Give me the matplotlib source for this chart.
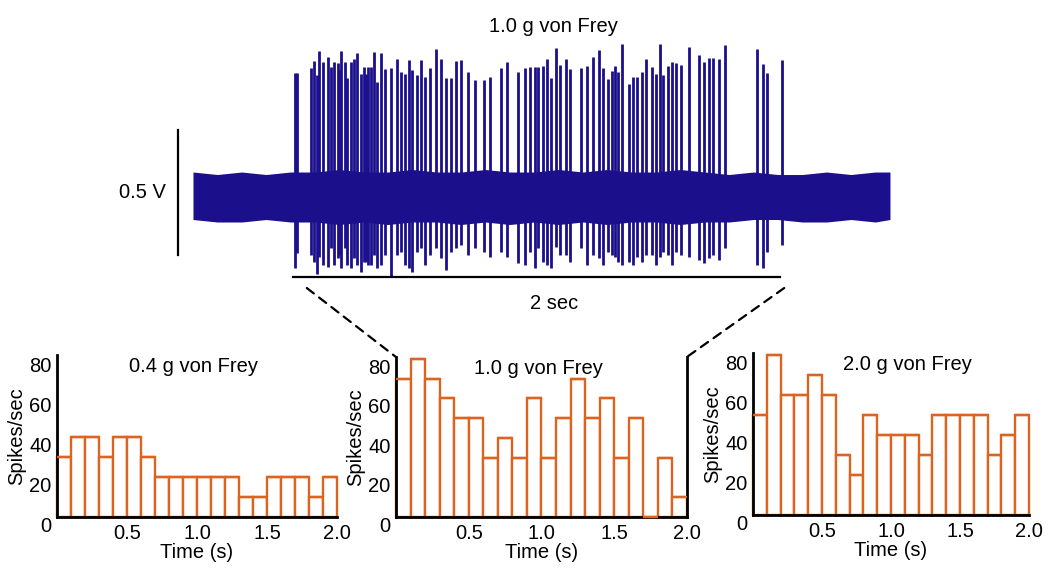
import numpy as np
import matplotlib.pyplot as plt
from matplotlib.patches import ConnectionPatch

plt.rcParams['font.family'] = ['Liberation Sans', 'DejaVu Sans']

# ---- top trace: spikes read from the recording (time in s, peak / trough in V)
spike_t = [0.418, 0.426, 0.484, 0.497, 0.508, 0.516, 0.532, 0.552, 0.566, 0.579,
           0.593, 0.601, 0.609, 0.623, 0.634, 0.648, 0.660, 0.673, 0.690, 0.700,
           0.709, 0.718, 0.730, 0.742, 0.757, 0.773, 0.787, 0.811, 0.837, 0.852,
           0.869, 0.885, 0.900,
           0.919, 0.937, 0.954, 0.974, 0.999, 1.019, 1.040, 1.057, 1.081, 1.101,
           1.130, 1.157, 1.193, 1.217, 1.262, 1.288, 1.333, 1.364, 1.381, 1.402,
           1.417,
           1.436, 1.454, 1.467, 1.488, 1.508, 1.529, 1.549, 1.593, 1.618, 1.641,
           1.664, 1.682, 1.702, 1.720, 1.732, 1.746, 1.761, 1.788, 1.806, 1.823,
           1.841, 1.859, 1.884, 1.900, 1.915, 1.927,
           1.948, 1.966, 1.982, 2.004, 2.034, 2.078, 2.095, 2.116, 2.135, 2.157,
           2.182, 2.314, 2.341, 2.354, 2.417]
spike_top = [0.497, 0.497, 0.515, 0.544, 0.488, 0.584, 0.539, 0.560, 0.521, 0.541,
             0.535, 0.508, 0.584, 0.541, 0.475, 0.541, 0.552, 0.575, 0.491, 0.521,
             0.491, 0.521, 0.521, 0.579, 0.461, 0.575, 0.511, 0.515, 0.551, 0.499,
             0.491, 0.547, 0.508,
             0.488, 0.548, 0.481, 0.517, 0.591, 0.552, 0.475, 0.477, 0.544, 0.547,
             0.499, 0.468, 0.468, 0.479, 0.517, 0.541, 0.499, 0.515, 0.519, 0.519,
             0.521,
             0.524, 0.552, 0.475, 0.595, 0.528, 0.552, 0.511, 0.515, 0.525, 0.559,
             0.588, 0.517, 0.471, 0.504, 0.524, 0.499, 0.611, 0.452, 0.480, 0.480,
             0.501, 0.551, 0.519, 0.491, 0.611, 0.488,
             0.525, 0.539, 0.535, 0.528, 0.600, 0.568, 0.541, 0.557, 0.555, 0.551,
             0.608, 0.592, 0.532, 0.495, 0.548]
spike_bottom = [-0.285, -0.225, -0.232, -0.259, -0.309, -0.239, -0.272, -0.279, -0.205, -0.272,
                -0.245, -0.232, -0.285, -0.205, -0.272, -0.285, -0.245, -0.272, -0.299, -0.259,
                -0.259, -0.272, -0.272, -0.232, -0.285, -0.272, -0.232, -0.319, -0.232, -0.219,
                -0.272, -0.285, -0.300,
                -0.219, -0.205, -0.272, -0.232, -0.205, -0.245, -0.292, -0.219, -0.205, -0.192,
                -0.232, -0.205, -0.219, -0.239, -0.219, -0.239, -0.265, -0.272, -0.219, -0.285,
                -0.205,
                -0.259, -0.272, -0.285, -0.199, -0.232, -0.232, -0.259, -0.205, -0.272, -0.232,
                -0.245, -0.272, -0.219, -0.232, -0.239, -0.259, -0.272, -0.259, -0.272, -0.239,
                -0.259, -0.232, -0.232, -0.272, -0.239, -0.219,
                -0.232, -0.272, -0.219, -0.232, -0.239, -0.252, -0.265, -0.245, -0.232, -0.252,
                -0.205, -0.272, -0.285, -0.219, -0.190]

# noise band envelope (V), read every 0.1 s
band_t = [0.0, 0.1, 0.2, 0.3, 0.4, 0.5, 0.6, 0.7, 0.8, 0.9, 1.0, 1.1, 1.2, 1.3, 1.4,
          1.5, 1.6, 1.7, 1.8, 1.9, 2.0, 2.1, 2.2, 2.3, 2.4, 2.5, 2.6, 2.7, 2.8, 2.86]
band_hi = [0.10, 0.09, 0.10, 0.09, 0.10, 0.10, 0.11, 0.10, 0.10, 0.11, 0.10, 0.10, 0.11, 0.10, 0.10,
           0.11, 0.10, 0.11, 0.10, 0.10, 0.11, 0.10, 0.09, 0.10, 0.09, 0.09, 0.10, 0.09, 0.10, 0.10]
band_lo = [-0.09, -0.10, -0.10, -0.09, -0.10, -0.10, -0.11, -0.10, -0.11, -0.10, -0.10, -0.11, -0.10, -0.11, -0.10,
           -0.11, -0.10, -0.11, -0.10, -0.10, -0.11, -0.10, -0.10, -0.09, -0.09, -0.10, -0.10, -0.09, -0.10, -0.09]

# ---- histograms: spikes/sec in 0.1 s bins
bin_edges = np.round(np.arange(0, 2.0, 0.1), 2)
rate_04 = [30, 40, 40, 30, 40, 40, 30, 20, 20, 20, 20, 20, 20, 10, 10, 20, 20, 20, 10, 20]
rate_10 = [70, 80, 70, 60, 50, 50, 30, 40, 30, 60, 30, 50, 70, 50, 60, 30, 50, 0, 30, 10]
rate_20 = [50, 80, 60, 60, 70, 60, 30, 20, 50, 40, 40, 40, 30, 50, 50, 50, 50, 30, 40, 50]

trace_col = '#1c0f8c'
bar_col = '#dc6420'
fs = 14.5

fig = plt.figure(figsize=(10.5, 5.68), dpi=100)

# top trace
ax_tr = fig.add_axes([0.1838, 0.4771, 0.6638, 0.4621])
ax_tr.fill_between(band_t, band_lo, band_hi, color=trace_col, lw=0)
ax_tr.vlines(spike_t, spike_bottom, spike_top, color=trace_col, lw=2.0)
ax_tr.set_xlim(0, 2.86)
ax_tr.set_ylim(-0.40, 0.65)
ax_tr.axis('off')
# scale bars
ax_tr.plot([-0.061, -0.061], [-0.232, 0.268], color='black', lw=1.6, clip_on=False)
ax_tr.text(-0.11, 0.02, '0.5 V', ha='right', va='center', fontsize=fs)
ax_tr.plot([0.41, 2.41], [-0.32, -0.32], color='black', lw=1.6, clip_on=False)
ax_tr.text(1.48, -0.424, '2 sec', ha='center', va='center', fontsize=fs)
ax_tr.text(1.48, 0.684, '1.0 g von Frey', ha='center', va='center', fontsize=fs)

panels = [
    ([0.0543, 0.0898, 0.2667, 0.2852], rate_04, '0.4 g von Frey', 0.486, False),
    ([0.3771, 0.0898, 0.2771, 0.2817], rate_10, '1.0 g von Frey', 0.49, True),
    ([0.7171, 0.0933, 0.2629, 0.2852], rate_20, '2.0 g von Frey', 0.558, False),
]
axes = []
for rect, rate, title, tx, right in panels:
    ax = fig.add_axes(rect)
    ax.bar(bin_edges, rate, width=0.1, align='edge', facecolor='white',
           edgecolor=bar_col, linewidth=1.7, zorder=2, clip_on=False)
    # bar tops drawn again above the axis line (an empty bin shows on the baseline)
    ax.hlines(rate, bin_edges, bin_edges + 0.1, color=bar_col, lw=1.7, zorder=4, clip_on=False)
    ax.set_xlim(0, 2.0)
    ax.set_ylim(0, 81)
    ax.set_xticks([0.5, 1.0, 1.5, 2.0])
    ax.set_xticklabels(['0.5', '1.0', '1.5', '2.0'])
    ax.set_yticks([0, 20, 40, 60, 80])
    ax.tick_params(length=0, labelsize=fs)
    ax.tick_params(axis='x', pad=5)
    ax.tick_params(axis='y', pad=4)
    for lab in ax.get_yticklabels():
        lab.set_va('top')
    ax.spines['top'].set_visible(False)
    ax.spines['right'].set_visible(right)
    for s in ['left', 'bottom', 'right']:
        ax.spines[s].set_linewidth(2)
        ax.spines[s].set_zorder(3)
    ax.set_xlabel('Time (s)', fontsize=fs, labelpad=0)
    ax.set_ylabel('Spikes/sec', fontsize=fs, labelpad=2)
    ax.text(tx, 0.93, title, transform=ax.transAxes, ha='center', va='center', fontsize=fs)
    axes.append(ax)

# zoom lines from the 2 sec bar to the middle panel
for xa, xb in [(0.467, 0.0), (2.426, 2.0)]:
    con = ConnectionPatch(xyA=(xa, -0.364), coordsA=ax_tr.transData,
                          xyB=(xb, 81), coordsB=axes[1].transData,
                          color='black', lw=1.6, linestyle=(0, (4, 3)))
    fig.add_artist(con)

fig.savefig('out.png', dpi=100)
